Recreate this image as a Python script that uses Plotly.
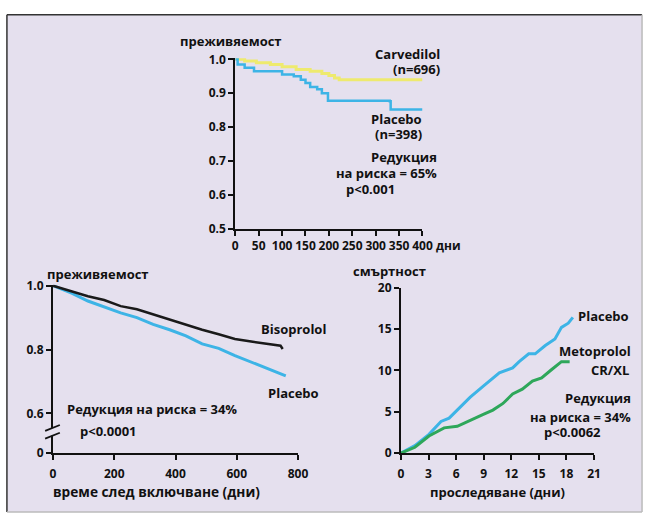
import plotly.graph_objects as go

W, H = 654, 523

# ---------------- data ----------------
# Top chart (Carvedilol vs Placebo), days vs survival
carv_days = [0, 20, 45, 75, 100, 130, 160, 185, 200, 212, 222, 300, 400]
carv_surv = [1.0, 0.995, 0.99, 0.985, 0.978, 0.97, 0.965, 0.958, 0.952, 0.945, 0.94, 0.94, 0.94]
plac1_days = [0, 5, 20, 40, 85, 100, 125, 140, 150, 160, 175, 185, 198, 330, 332, 400]
plac1_surv = [1.0, 0.985, 0.975, 0.965, 0.965, 0.955, 0.95, 0.94, 0.93, 0.918, 0.912, 0.9, 0.878, 0.876, 0.852, 0.852]

# Bottom-left (Bisoprolol vs Placebo), days vs survival
biso_days = [0, 61, 114, 167, 221, 274, 327, 381, 434, 487, 541, 594, 647, 701, 743, 750]
biso_surv = [1.0, 0.983, 0.967, 0.955, 0.936, 0.926, 0.910, 0.893, 0.879, 0.862, 0.848, 0.833, 0.825, 0.818, 0.812, 0.802]
plac2_days = [0, 61, 114, 167, 221, 274, 327, 381, 434, 487, 541, 594, 647, 701, 760]
plac2_surv = [1.0, 0.977, 0.952, 0.933, 0.915, 0.900, 0.879, 0.862, 0.843, 0.818, 0.804, 0.781, 0.761, 0.740, 0.718]

# Bottom-right (Metoprolol CR/XL vs Placebo), months vs mortality %
plac3_t = [0, 1.52, 3.05, 4.36, 5.24, 6.13, 7.54, 8.96, 10.7, 12.15, 12.86, 13.9, 14.6, 15.7, 16.75, 17.46, 18.2, 18.7]
plac3_m = [0, 0.9, 2.27, 3.83, 4.22, 5.2, 6.76, 8.1, 9.7, 10.3, 11.05, 12.0, 12.0, 13.0, 13.8, 15.2, 15.7, 16.4]
meto_t = [0, 1.52, 3.05, 4.7, 6.13, 7.54, 8.96, 10.0, 11.1, 12.15, 13.2, 14.3, 15.3, 16.4, 17.46, 18.35]
meto_m = [0, 0.7, 2.07, 3.05, 3.24, 4.0, 4.69, 5.2, 6.0, 7.15, 7.73, 8.7, 9.1, 10.1, 11.05, 11.05]

top_xticks = [0, 50, 100, 150, 200, 250, 300, 350, 400]
top_yticks = [0.5, 0.6, 0.7, 0.8, 0.9, 1.0]
bl_xticks = [0, 200, 400, 600, 800]
bl_yticks = [0.476, 0.6, 0.8, 1.0]
bl_yticktext = ["0", "0.6", "0.8", "1.0"]
br_xticks = [0, 3, 6, 9, 12, 15, 18, 21]
br_yticks = [0, 5, 10, 15, 20]

YELLOW = "#EEEA6E"
BLUE = "#3DB4E6"
BLACK = "#1A1A1A"
GREEN = "#2EA75A"
BG = "#E5E0EE"
FONT = "Open Sans"


def px(x):
    return x / W


def py(y):
    return 1 - y / H


fig = go.Figure()

fig.add_trace(go.Scatter(x=carv_days, y=carv_surv, mode="lines", line=dict(color=YELLOW, width=3, shape="hv"),
                         xaxis="x", yaxis="y"))
fig.add_trace(go.Scatter(x=plac1_days, y=plac1_surv, mode="lines", line=dict(color=BLUE, width=2.5, shape="hv"),
                         xaxis="x", yaxis="y"))
fig.add_trace(go.Scatter(x=plac2_days, y=plac2_surv, mode="lines", line=dict(color=BLUE, width=3),
                         xaxis="x2", yaxis="y2"))
fig.add_trace(go.Scatter(x=biso_days, y=biso_surv, mode="lines", line=dict(color=BLACK, width=2.5),
                         xaxis="x2", yaxis="y2"))
fig.add_trace(go.Scatter(x=plac3_t, y=plac3_m, mode="lines", line=dict(color=BLUE, width=3),
                         xaxis="x3", yaxis="y3"))
fig.add_trace(go.Scatter(x=meto_t, y=meto_m, mode="lines", line=dict(color=GREEN, width=3),
                         xaxis="x3", yaxis="y3"))

tickfont = dict(family=FONT, size=12, color="#111", weight="bold")
axcommon = dict(showgrid=False, zeroline=False, showline=True, linecolor="#111", linewidth=2,
                ticks="outside", ticklen=5, tickwidth=2, tickcolor="#111", tickfont=tickfont)

fig.update_layout(
    width=W, height=H, margin=dict(l=0, r=0, t=0, b=0),
    paper_bgcolor="white", plot_bgcolor="rgba(0,0,0,0)", showlegend=False,
    xaxis=dict(domain=[px(237), px(428)], range=[0, 400], tickvals=top_xticks, anchor="y", **axcommon),
    yaxis=dict(domain=[py(227), py(51)], range=[0.5, 1.003], tickvals=top_yticks, tickformat=".1f",
               anchor="x", **axcommon),
    xaxis2=dict(domain=[px(51), px(301)], range=[0, 800], tickvals=bl_xticks, anchor="y2",
                ticklabelstandoff=4, **axcommon),
    yaxis2=dict(domain=[py(459), py(285)], range=[0.476, 1.003], tickvals=bl_yticks, ticktext=bl_yticktext,
                anchor="x2", **axcommon),
    xaxis3=dict(domain=[px(406), px(603)], range=[0, 21], tickvals=br_xticks, anchor="y3",
                ticklabelstandoff=4, **axcommon),
    yaxis3=dict(domain=[py(459), py(288)], range=[0, 20], tickvals=br_yticks, anchor="x3", **axcommon),
)

shapes = [
    dict(type="rect", xref="paper", yref="paper", x0=px(4), x1=px(652), y0=py(520), y1=py(6),
         fillcolor=BG, line=dict(width=0), layer="below"),
    dict(type="line", xref="paper", yref="paper", x0=px(4), x1=px(4), y0=py(520), y1=py(6),
         line=dict(color="#333", width=1.5)),
    dict(type="line", xref="paper", yref="paper", x0=px(4), x1=px(652), y0=py(6), y1=py(6),
         line=dict(color="#333", width=1.5)),
    dict(type="line", xref="paper", yref="paper", x0=px(652), x1=px(652), y0=py(520), y1=py(6),
         line=dict(color="#BBB", width=1.5)),
    dict(type="line", xref="paper", yref="paper", x0=px(4), x1=px(652), y0=py(520), y1=py(520),
         line=dict(color="#BBB", width=1.5)),
    # axis break marks on bottom-left y axis
    dict(type="rect", xref="paper", yref="paper", x0=px(48), x1=px(54), y0=py(441), y1=py(433),
         fillcolor=BG, line=dict(width=0), layer="above"),
    dict(type="line", xref="paper", yref="paper", x0=px(43), x1=px(58), y0=py(436), y1=py(430),
         line=dict(color="#111", width=1.8)),
    dict(type="line", xref="paper", yref="paper", x0=px(43), x1=px(58), y0=py(444), y1=py(438),
         line=dict(color="#111", width=1.8)),
]
fig.update_layout(shapes=shapes)


def ann(text, x, y, xanchor="left", size=13):
    fig.add_annotation(text=text, x=px(x), y=py(y), xref="paper", yref="paper", xanchor=xanchor,
                       yanchor="middle", showarrow=False, borderpad=0,
                       font=dict(family=FONT, size=size, color="#111", weight="bold"))


# top
ann("преживяемост", 180, 33)
ann("Carvedilol", 447, 47, "right")
ann("(n=696)", 447, 62, "right")
ann("Placebo", 429, 114, "right")
ann("(n=398)", 429, 129, "right")
ann("Редукция", 444, 153, "right")
ann("на риска = 65%", 444, 170, "right")
ann("p<0.001", 349, 186)
ann("дни", 441, 244, size=12)
# bottom-left
ann("преживяемост", 44, 274)
ann("Bisoprolol", 262, 331)
ann("Placebo", 269, 397)
ann("Редукция на риска = 34%", 64, 413)
ann("p<0.0001", 78, 436)
ann("време след включване (дни)", 50, 499, size=13.7)
# bottom-right
ann("смъртност", 356, 271)
ann("Placebo", 586, 317)
ann("Metoprolol", 642, 354, "right")
ann("CR/XL", 640, 373, "right")
ann("Редукция", 642, 402, "right")
ann("на риска = 34%", 642, 422, "right")
ann("p<0.0062", 581, 437, "center")
ann("проследяване (дни)", 505, 499, "center")

fig.write_html("out.html", config={"displayModeBar": False},
               post_script="document.body.style.margin='0px';")
